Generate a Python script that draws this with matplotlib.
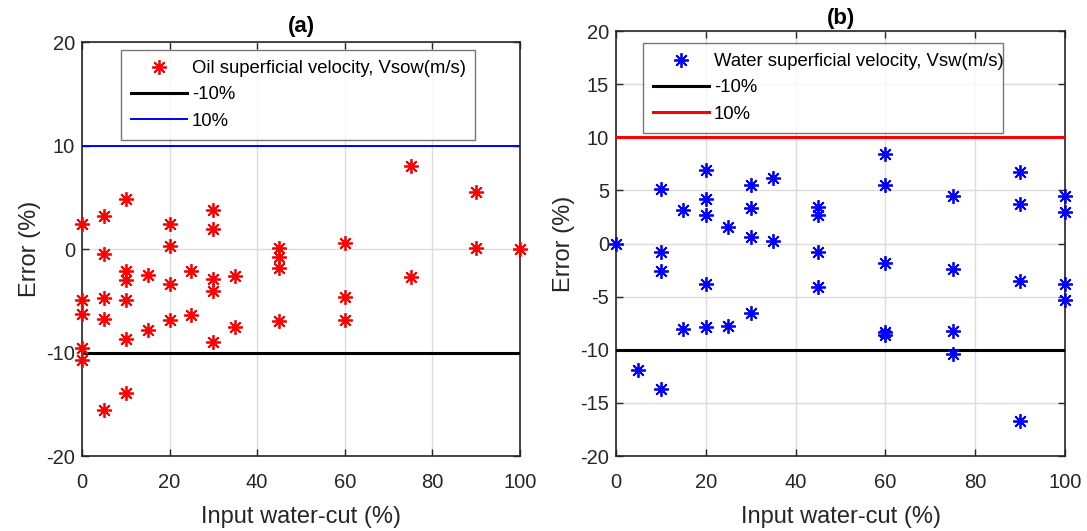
import matplotlib
matplotlib.use("Agg")
import matplotlib.pyplot as plt

plt.rcParams['font.family'] = ['Liberation Sans', 'DejaVu Sans']
plt.rcParams['axes.unicode_minus'] = False

# (a) oil superficial velocity error vs input water-cut
oil_wc = [0, 0, 0, 0, 0,
          5, 5, 5, 5, 5,
          10, 10, 10, 10, 10, 10,
          15, 15,
          20, 20, 20, 20,
          25, 25,
          30, 30, 30, 30, 30,
          35, 35,
          45, 45, 45, 45,
          60, 60, 60,
          75, 75,
          90, 90,
          100]
oil_err = [2.4, -4.9, -6.3, -9.6, -10.7,
           3.2, -0.5, -4.7, -6.8, -15.6,
           4.8, -2.1, -3.0, -4.9, -8.7, -13.9,
           -2.5, -7.8,
           2.4, 0.3, -3.4, -6.9,
           -2.1, -6.4,
           3.8, 1.9, -2.9, -4.1, -9.0,
           -2.6, -7.5,
           0.1, -0.8, -1.8, -7.0,
           0.6, -4.6, -6.9,
           8.0, -2.7,
           5.5, 0.05,
           0.0]

# (b) water superficial velocity error vs input water-cut
wat_wc = [0,
          5,
          10, 10, 10, 10,
          15, 15,
          20, 20, 20, 20, 20,
          25, 25,
          30, 30, 30, 30,
          35, 35,
          45, 45, 45, 45,
          60, 60, 60, 60, 60,
          75, 75, 75, 75,
          90, 90, 90, 90,
          100, 100, 100, 100]
wat_err = [0.0,
           -11.9,
           5.1, -0.8, -2.6, -13.7,
           3.2, -8.0,
           6.9, 4.2, 2.7, -3.8, -7.9,
           1.6, -7.8,
           5.5, 3.3, 0.6, -6.5,
           6.2, 0.2,
           3.4, 2.7, -0.8, -4.1,
           8.4, 5.5, -1.8, -8.3, -8.6,
           4.5, -2.4, -8.2, -10.4,
           6.7, 3.7, -3.5, -16.7,
           4.5, 3.0, -3.8, -5.3]

band_lo = -10
band_hi = 10
x_ticks = [0, 20, 40, 60, 80, 100]

dark = '#262626'
asterisk = (8, 2, 0)

fig = plt.figure(figsize=(10.87, 5.31), dpi=100)
ax_a = fig.add_axes([0.0754, 0.1412, 0.4030, 0.7797])
ax_b = fig.add_axes([0.5667, 0.1412, 0.4131, 0.8004])


def style_axes(ax, yticks):
    ax.set_xlim(0, 100)
    ax.set_ylim(-20, 20)
    ax.set_xticks(x_ticks)
    ax.set_yticks(yticks)
    ax.grid(True, color='#dcdcdc', linewidth=1.0, zorder=0)
    ax.set_axisbelow(True)
    ax.tick_params(direction='in', top=True, right=True, length=5,
                   width=1.0, colors=dark, labelsize=14.5)
    ax.tick_params(axis='x', pad=12)
    ax.tick_params(axis='y', pad=5)
    for sp in ax.spines.values():
        sp.set_color(dark)
        sp.set_linewidth(1.2)
    ax.set_xlabel('Input water-cut (%)', fontsize=17, color=dark, labelpad=10)
    ax.set_ylabel('Error (%)', fontsize=17, color=dark, labelpad=4)


def add_legend(ax, bbox):
    leg = ax.legend(loc='upper left', bbox_to_anchor=bbox, mode='expand',
                    fontsize=13.3, frameon=True, fancybox=False,
                    edgecolor='#555555', handlelength=3.0, handletextpad=0.3,
                    borderpad=0.55, labelspacing=0.5, borderaxespad=0)
    leg.get_frame().set_linewidth(1.0)
    return leg


# ---- panel (a) ----
ax_a.plot(oil_wc, oil_err, linestyle='none', marker=asterisk, markersize=10.5,
          markeredgewidth=1.3, color='red', clip_on=False, zorder=4,
          label='Oil superficial velocity, Vsow(m/s)')
ax_a.axhline(band_lo, color='black', linewidth=2.2, zorder=3, label='-10%')
ax_a.axhline(band_hi, color='blue', linewidth=1.4, zorder=3, label='10%')
style_axes(ax_a, [-20, -10, 0, 10, 20])
ax_a.set_title('(a)', fontsize=16, fontweight='bold', pad=7)
add_legend(ax_a, (0.089, 0.771, 0.808, 0.21))

# ---- panel (b) ----
ax_b.plot(wat_wc, wat_err, linestyle='none', marker=asterisk, markersize=10.5,
          markeredgewidth=1.3, color='blue', clip_on=False, zorder=4,
          label='Water superficial velocity, Vsw(m/s)')
ax_b.axhline(band_lo, color='black', linewidth=2.2, zorder=3, label='-10%')
ax_b.axhline(band_hi, color='red', linewidth=2.2, zorder=3, label='10%')
style_axes(ax_b, list(range(-20, 21, 5)))
ax_b.set_title('(b)', fontsize=16, fontweight='bold', pad=5)
add_legend(ax_b, (0.060, 0.762, 0.802, 0.21))

fig.savefig('out.png', dpi=100)
